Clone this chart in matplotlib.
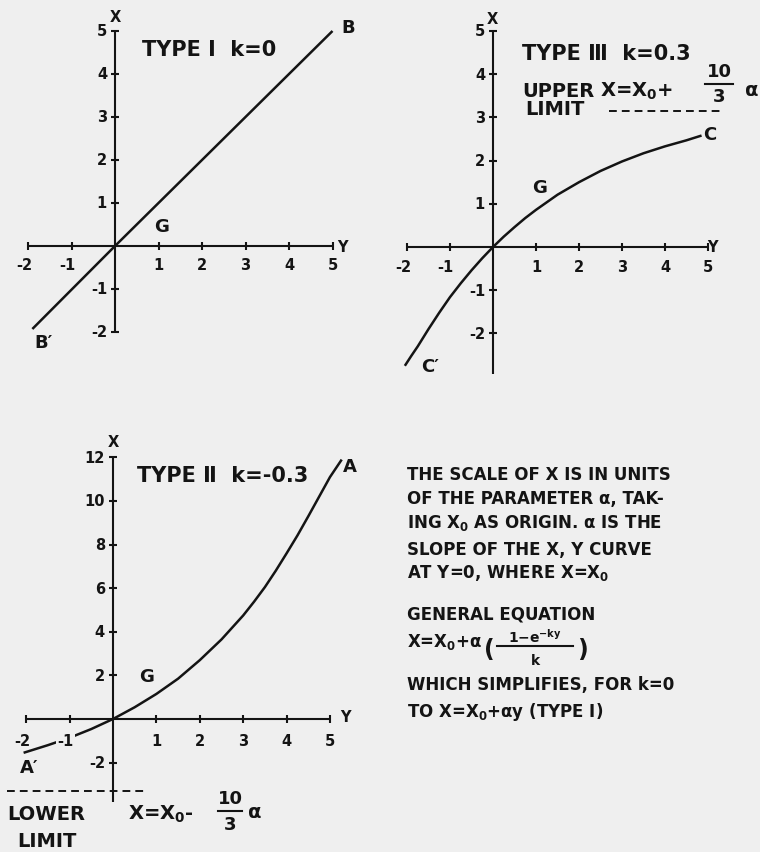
import matplotlib
matplotlib.use("Agg")
import matplotlib.pyplot as plt
from matplotlib.lines import Line2D

# ---- data (Y along the horizontal axis, X vertical) ----
type1_y = [-1.9, 0.0, 5.0]
type1_x = [-1.93, 0.0, 5.0]

type3_y = [-2.05, -1.9, -1.75, -1.5, -1.25, -1.0, -0.75, -0.5, -0.25, 0.0, 0.25, 0.5, 0.75, 1.0,
           1.5, 2.0, 2.5, 3.0, 3.5, 4.0, 4.5, 4.85]
type3_x = [-2.75, -2.52, -2.3, -1.9, -1.52, -1.16, -0.84, -0.54, -0.26, 0.0, 0.24, 0.46, 0.67, 0.86,
           1.21, 1.50, 1.76, 1.98, 2.17, 2.33, 2.47, 2.58]
upper_limit = 3.15
upper_dash_y = [2.7, 5.3]

type2_y = [-2.06, -1.5, -1.0, -0.5, 0.0, 0.5, 1.0, 1.5, 2.0, 2.5, 3.0, 3.25, 3.5, 3.75, 4.0, 4.25,
           4.5, 4.75, 5.0, 5.27]
type2_x = [-1.55, -1.2, -0.86, -0.46, 0.0, 0.54, 1.15, 1.85, 2.7, 3.65, 4.75, 5.38, 6.05, 6.8, 7.6,
           8.42, 9.3, 10.2, 11.1, 11.9]
lower_limit = -3.3
lower_dash_y = [-2.44, 0.78]

ticks_h = [-2, -1, 1, 2, 3, 4, 5]
ticks_v1 = [-2, -1, 1, 2, 3, 4, 5]
ticks_v3 = [-2, 2, 4, 6, 8, 10, 12]

note_lines = [
    (480, "THE SCALE OF X IS IN UNITS"),
    (504, "OF THE PARAMETER α, TAK-"),
    (528, "ING X$_0$ AS ORIGIN. α IS THE"),
    (555, "SLOPE OF THE X, Y CURVE"),
    (578, "AT Y=0, WHERE X=X$_0$"),
    (620, "GENERAL EQUATION"),
    (690, "WHICH SIMPLIFIES, FOR k=0"),
    (717, "TO X=X$_0$+αy (TYPE Ⅰ)"),
]

W, H = 760, 853
INK = "#141414"
PAPER = "#efefef"

plt.rcParams["font.family"] = "DejaVu Sans"
plt.rcParams["font.weight"] = "bold"
plt.rcParams["mathtext.fontset"] = "custom"
plt.rcParams["mathtext.rm"] = "DejaVu Sans:bold"
plt.rcParams["mathtext.it"] = "DejaVu Sans:bold"
plt.rcParams["mathtext.bf"] = "DejaVu Sans:bold"

fig = plt.figure(figsize=(W / 100, H / 100), dpi=100, facecolor=PAPER)


def put(px, py, s, size=12, ha="left", va="baseline", **kw):
    # text placed in pixel coords of the page (origin top-left)
    return fig.text(px / W, 1 - py / H, s, fontsize=size, ha=ha, va=va, color=INK, **kw)


def rule(x0, x1, py, lw=1.4, **kw):
    fig.add_artist(Line2D([x0 / W, x1 / W], [1 - py / H, 1 - py / H], color=INK, lw=lw, **kw))


def frac(cx, y_num, y_bar, y_den, half, num, den, size=12):
    put(cx, y_num, num, size=size, ha="center", va="center")
    rule(cx - half, cx + half, y_bar, lw=1.5)
    put(cx, y_den, den, size=size, ha="center", va="center")


def panel(ox, oy, sx, sy, xlim, ylim):
    left = ox + xlim[0] * sx
    right = ox + xlim[1] * sx
    top = oy - ylim[1] * sy
    bottom = oy - ylim[0] * sy
    ax = fig.add_axes([left / W, 1 - bottom / H, (right - left) / W, (bottom - top) / H])
    ax.set_xlim(xlim)
    ax.set_ylim(ylim)
    ax.axis("off")
    return ax


def frame(ax, sx, sy, hlim, vlim, hticks, vticks, lab_off=19, skip_h=()):
    kw = dict(color=INK, lw=1.5, solid_capstyle="butt", clip_on=False)
    ax.plot(hlim, [0, 0], **kw)
    ax.plot([0, 0], vlim, **kw)
    for t in hticks:
        ax.plot([t, t], [-4 / sy, 4 / sy], **kw)
        if t in skip_h:
            continue
        if t < 0:
            ax.text(t + 4 / sx, -lab_off / sy, str(t), ha="right", va="center",
                    fontsize=10.5, color=INK)
        else:
            ax.text(t, -lab_off / sy, str(t), ha="center", va="center", fontsize=10.5, color=INK)
    for t in vticks:
        ax.plot([-4 / sx, 4 / sx], [t, t], **kw)
        ax.text(-8 / sx, t, str(t), ha="right", va="center", fontsize=10.5, color=INK)


# ---- Type I (top left) ----
ax1 = panel(115, 247, 43.5, 43, (-2.6, 5.9), (-2.6, 5.7))
frame(ax1, 43.5, 43, (-2, 5), (-2, 5), ticks_h, ticks_v1)
ax1.plot(type1_y, type1_x, color=INK, lw=1.8, solid_capstyle="butt")
put(142, 56, "TYPE Ⅰ  k=0", size=15)
put(348, 28, "B", size=13, ha="center", va="center")
put(162, 227, "G", size=13, ha="center", va="center")
put(44, 343, "B′", size=13, ha="center", va="center")
put(115, 18, "X", size=10.5, ha="center", va="center")
put(337, 247, "Y", size=10.5, ha="left", va="center")

# ---- Type III (top right) ----
ax2 = panel(493, 248, 43, 43.2, (-2.6, 6.2), (-3.2, 5.7))
frame(ax2, 43, 43.2, (-2, 5), (-2.95, 5), ticks_h, ticks_v1)
ax2.plot(type3_y, type3_x, color=INK, lw=1.8, solid_capstyle="butt")
ax2.plot(upper_dash_y, [upper_limit, upper_limit], color=INK, lw=1.4, linestyle=(0, (4, 2.6)))
put(522, 60, "TYPE Ⅲ  k=0.3", size=15)
put(522, 97, "UPPER", size=14)
put(525, 115, "LIMIT", size=14)
put(600, 97, "X=X$_0$+", size=14)
frac(719, 72, 85, 97, 14, "10", "3", size=13)
put(752, 90, "α", size=14, ha="center", va="center")
put(540, 188, "G", size=13, ha="center", va="center")
put(703, 135, "C", size=13, ha="left", va="center")
put(430, 367, "C′", size=13, ha="center", va="center")
put(492, 20, "X", size=10.5, ha="center", va="center")
put(707, 248, "Y", size=10.5, ha="left", va="center")

# ---- Type II (bottom left) ----
ax3 = panel(113, 720, 43.4, 21.8, (-2.6, 6.1), (-6.0, 12.9))
frame(ax3, 43.4, 21.8, (-2, 5), (-3.8, 12), ticks_h, ticks_v3, lab_off=22, skip_h=(-1,))
ax3.plot(type2_y, type2_x, color=INK, lw=1.8, solid_capstyle="butt", zorder=2)
ax3.text(-1 + 4 / 43.4, -22 / 21.8, "-1", ha="right", va="center", fontsize=10.5, color=INK,
         zorder=3, bbox=dict(facecolor=PAPER, edgecolor="none", pad=1.0))
ax3.plot(lower_dash_y, [lower_limit, lower_limit], color=INK, lw=1.4, linestyle=(0, (4, 2.6)))
put(137, 482, "TYPE Ⅱ  k=-0.3", size=15)
put(350, 467, "A", size=13, ha="center", va="center")
put(113, 443, "X", size=10.5, ha="center", va="center")
put(147, 677, "G", size=13, ha="center", va="center")
put(29, 768, "A′", size=13, ha="center", va="center")
put(340, 718, "Y", size=10.5, ha="left", va="center")
put(7, 820, "LOWER", size=14)
put(17, 847, "LIMIT", size=14)
put(128, 820, "X=X$_0$-", size=14)
frac(230, 799, 812, 825, 12, "10", "3", size=13)
put(255, 813, "α", size=14, ha="center", va="center")

# ---- explanatory note (right) ----
for py, s in note_lines:
    put(407, py, s, size=12)
put(407, 647, "X=X$_0$+α", size=12)
put(489, 650, "(", size=17, ha="center", va="center")
put(535, 643, "1−e$^{-ky}$", size=10, ha="center")
rule(497, 573, 647, lw=1.5)
put(535, 661, "k", size=10, ha="center", va="center")
put(582, 650, ")", size=17, ha="center", va="center")

fig.savefig("out.png", dpi=100, facecolor=PAPER)
